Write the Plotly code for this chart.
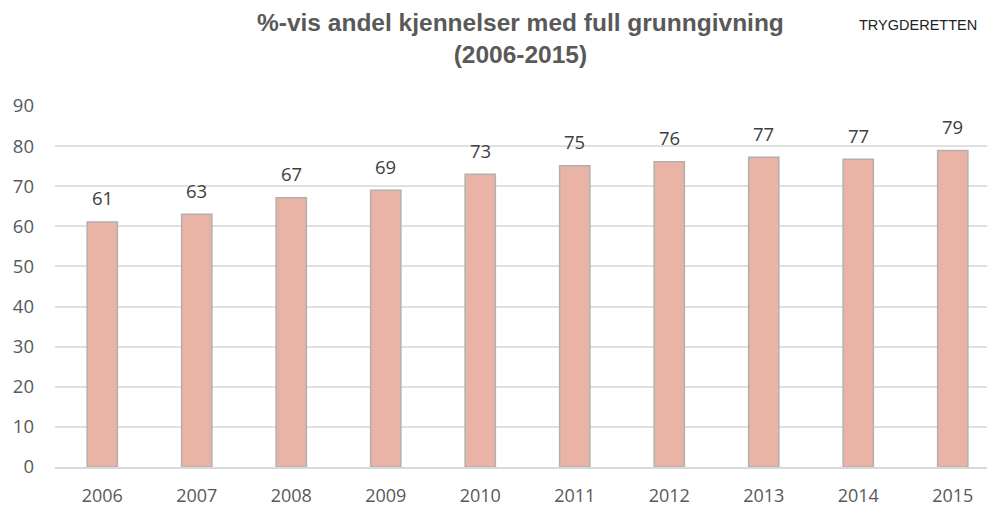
import plotly.graph_objects as go

years = ["2006", "2007", "2008", "2009", "2010", "2011", "2012", "2013", "2014", "2015"]
values = [61.1, 63.0, 67.1, 69.0, 73.0, 75.1, 76.1, 77.2, 76.7, 78.9]
labels = ["61", "63", "67", "69", "73", "75", "76", "77", "77", "79"]
y_ticks = [0, 10, 20, 30, 40, 50, 60, 70, 80, 90]

fig = go.Figure()
fig.add_trace(go.Bar(
    x=years, y=values,
    marker=dict(color="#E9B4A5", line=dict(color="#B0B0B0", width=1.5)),
    width=0.32,
    hoverinfo="skip",
))
for i, (v, lab) in enumerate(zip(values, labels)):
    fig.add_annotation(x=i, y=v, text=lab, showarrow=False, yshift=24,
                       font=dict(family="Open Sans, Liberation Sans", size=18.5, color="#404040"))

fig.add_annotation(text="TRYGDERETTEN", xref="paper", yref="paper", x=1.0, y=1.0,
                   xanchor="right", yanchor="bottom", yshift=71, xshift=-21, showarrow=False,
                   font=dict(family="Liberation Sans, Arial", size=14.5, color="#222222"))

fig.update_layout(
    width=995, height=507,
    margin=dict(l=47, r=3, t=98, b=48),
    paper_bgcolor="white", plot_bgcolor="white",
    showlegend=False,
    title=dict(text="<b>%-vis andel kjennelser med full grunngivning<br>(2006-2015)</b>",
               x=0.515, xanchor="center", y=0.955, yanchor="top",
               font=dict(family="Liberation Sans, Arial", size=24.5, color="#595959")),
    xaxis=dict(type="category", range=[-0.5, 9.5], showgrid=False, showline=True,
               linecolor="#D9D9D9", linewidth=1.5, automargin=False,
               ticks="", ticklabelstandoff=12,
               tickfont=dict(family="Open Sans, Liberation Sans", size=18, color="#595959")),
    yaxis=dict(range=[0, 90], tickvals=y_ticks, showgrid=True, gridcolor="#E0E0E0", gridwidth=1.5,
               zeroline=False, showline=False, ticks="", ticklabelstandoff=20, automargin=False,
               tickfont=dict(family="Open Sans, Liberation Sans", size=18.5, color="#595959")),
)
fig.write_html("out.html")
